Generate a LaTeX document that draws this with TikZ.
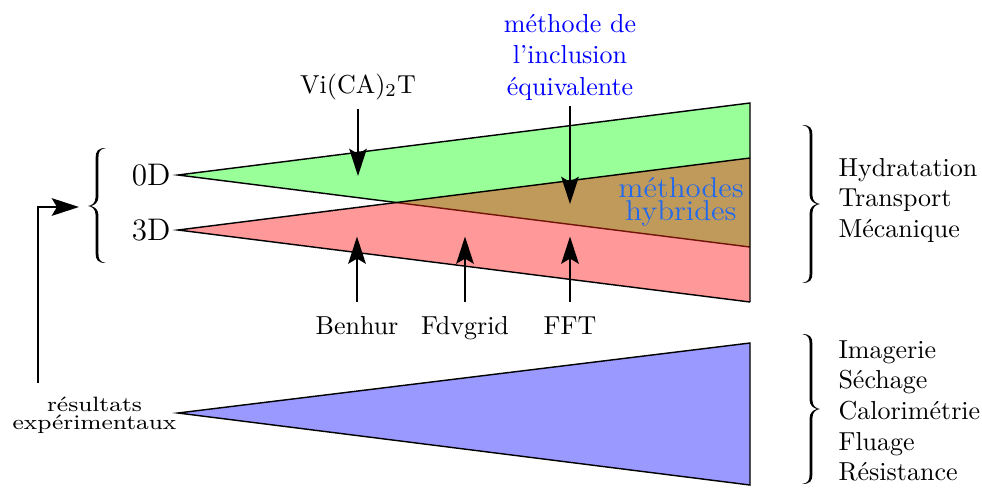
\documentclass[tikz,border=0pt]{standalone}
\usetikzlibrary{arrows.meta}
\definecolor{cgreen}{RGB}{153,255,153}
\definecolor{cred}{RGB}{255,153,153}
\definecolor{cblue}{RGB}{153,153,255}
\definecolor{cbrown}{RGB}{192,154,90}
\definecolor{cline}{RGB}{115,20,10}
\definecolor{hyb}{RGB}{35,105,235}
% filled TeX-like brace, pointing to -x; #1 top, #2 tip, #3 bottom (picture units)
\newcommand{\mybracefill}[3]{%
 \fill (9,#1) .. controls (2.5,#1+1) and (1.4,#1+4) .. (1.4,#1+10)
  -- (1.4,#2-9) .. controls (1.4,#2-4) and (-2,#2-1) .. (-6,#2)
  .. controls (-2,#2+1) and (1.4,#2+4) .. (1.4,#2+9)
  -- (1.4,#3-10) .. controls (1.4,#3-4) and (2.5,#3-1) .. (9,#3)
  .. controls (1,#3) and (-1.4,#3-3) .. (-1.4,#3-10)
  -- (-1.4,#2+9) .. controls (-1.4,#2+3) and (-5,#2+0.5) .. (-9,#2)
  .. controls (-5,#2-0.5) and (-1.4,#2-3) .. (-1.4,#2-9)
  -- (-1.4,#1+10) .. controls (-1.4,#1+3) and (1,#1) .. (9,#1) -- cycle;}
\begin{document}
\begin{tikzpicture}[x=0.3846pt,y=-0.3846pt,
  lab/.style={inner xsep=0pt, font=\fontsize{10}{12}\selectfont},
  big/.style={inner sep=0pt, font=\fontsize{12}{14}\selectfont},
  hybtext/.style={inner sep=0pt, font=\fontsize{11}{13}\selectfont, xscale=1.08, text=hyb},
  small/.style={inner sep=0pt, font=\fontsize{8}{9}\selectfont, xscale=1.15},
  edge/.style={line width=0.55pt},
  arr/.style={line width=0.55pt, -{Stealth[length=10.5pt,width=6.8pt,inset=2pt]}}]
\useasboundingbox (0,0) rectangle (982,487);
% triangle corners
\coordinate (gA) at (178,175); \coordinate (gT) at (750,103); \coordinate (gB) at (750,247);
\coordinate (rA) at (178,230); \coordinate (rT) at (750,158); \coordinate (rB) at (750,302);
\coordinate (X) at (396.3,202.5);
\coordinate (bA) at (178,413); \coordinate (bT) at (750,343); \coordinate (bB) at (750,485);
% fills
\fill[cgreen] (gA)--(gT)--(gB)--cycle;
\fill[cred] (rA)--(rT)--(rB)--cycle;
\fill[cbrown] (X)--(rT)--(gB)--cycle;
% outlines
\draw[edge,cline] (X)--(gB);
\draw[edge] (X)--(gA)--(gT)--(rB);
\draw[edge] (rT)--(rA)--(rB);
\draw[edge,fill=cblue] (bA)--(bT)--(bB)--cycle;
% left labels
\node[big, anchor=east] (d0) at (171,175) {0D};
\node[big, anchor=east] (d3) at (171,230) {3D};
\begin{scope}[shift={(97,0)}]
  \mybracefill{148}{206}{263}
\end{scope}
\node[small, anchor=base] (res1) at (94.5,411) {résultats};
\node[small, anchor=base] (res2) at (94.5,429) {expérimentaux};
\coordinate (fbS) at (38,383);
\coordinate (fbE) at (79,207);
\draw[arr] (fbS) |- (fbE);
% top labels and arrows
\node[lab, anchor=base, inner ysep=3.5pt] (vica) at (358,93) {Vi(CA)$_2$T};
\node[lab, anchor=base, text=blue] (inc1) at (570,32) {méthode de};
\node[lab, anchor=base, text=blue] (inc2) at (570,63.5) {l'inclusion};
\node[lab, anchor=base, text=blue, inner ysep=2.2pt] (inc3) at (570,95) {équivalente};
\coordinate (viE) at (358,176);
\coordinate (incE) at (570,204);
\draw[arr] (vica) -- (viE);
\draw[arr] (inc3) -- (incE);
\node[hybtext, anchor=base] (hy1) at (681,197) {méthodes};
\node[hybtext, anchor=base] (hy2) at (681,220) {hybrides};
% bottom labels and arrows
\node[lab, anchor=base, inner ysep=5.3pt] (benhur) at (357,334) {Benhur};
\node[lab, anchor=base, inner ysep=5.3pt] (fdv) at (465,334) {Fdvgrid};
\node[lab, anchor=base, inner ysep=5.4pt] (fft) at (570,334) {FFT};
\coordinate (benE) at (357,236.5);
\coordinate (fdvE) at (465,236.5);
\coordinate (fftE) at (570,236.5);
\draw[arr] (benhur) -- (benE);
\draw[arr] (fdv) -- (fdvE);
\draw[arr] (fft) -- (fftE);
% right braces and lists
\begin{scope}[shift={(811,0)}, xscale=-1]
  \mybracefill{125}{204}{283}
  \mybracefill{334}{409}{484}
\end{scope}
\node[lab, anchor=base west] (p1) at (838,176) {Hydratation};
\node[lab, anchor=base west] (p2) at (838,206.7) {Transport};
\node[lab, anchor=base west] (p3) at (838,237.4) {Mécanique};
\node[lab, anchor=base west] (e1) at (838,358) {Imagerie};
\node[lab, anchor=base west] (e2) at (838,388.7) {Séchage};
\node[lab, anchor=base west] (e3) at (838,419.4) {Calorimétrie};
\node[lab, anchor=base west] (e4) at (838,450.1) {Fluage};
\node[lab, anchor=base west] (e5) at (838,480.8) {Résistance};
\end{tikzpicture}
\end{document}
